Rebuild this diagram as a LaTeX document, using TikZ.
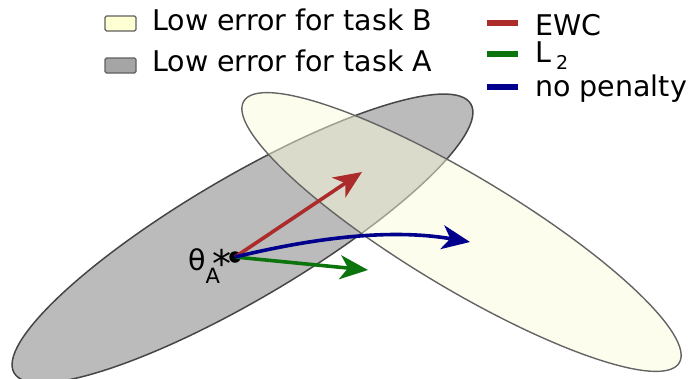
\documentclass[tikz,border=0pt]{standalone}
\usepackage{fontspec}
\setmainfont{DejaVu Sans}
\usepackage{tikz}
\usetikzlibrary{arrows.meta, positioning}
\definecolor{taskA}{RGB}{187,187,187}
\definecolor{taskB}{RGB}{251,251,221}
\definecolor{boxA}{RGB}{165,165,165}
\definecolor{boxB}{RGB}{255,255,212}
\definecolor{ewc}{RGB}{172,44,44}
\definecolor{ltwo}{RGB}{12,116,12}
\definecolor{nopen}{RGB}{0,0,140}
\tikzstyle{legtext}=[anchor=base west, inner sep=0pt, font=\fontsize{28.5}{30}\selectfont]
\tikzstyle{legbox}=[draw={rgb,255:red,95;green,95;blue,95}, line width=1.4pt, rounded corners=1.5pt, minimum width=31pt, minimum height=15pt, inner sep=0pt]
\tikzstyle{legline}=[minimum width=31pt, minimum height=5.5pt, inner sep=0pt]
\tikzstyle{penalty}=[line width=3.6pt, -{Stealth[length=28pt,width=24pt,inset=8pt]}]

\begin{document}
\begin{tikzpicture}[x=1pt,y=-1pt]
			\useasboundingbox (0,0) rectangle (692,378);

			% regions of low error
			\draw[fill=taskA, draw={rgb,255:red,70;green,70;blue,70}, line width=1.5pt, shift={(242.5,238.5)}, rotate=30.5] (0,0) ellipse [x radius=265pt, y radius=61pt];
			\draw[fill=taskB, fill opacity=0.5, draw={rgb,255:red,100;green,100;blue,100}, line width=1.4pt, shift={(461.5,232)}, rotate=-31] (0,0) ellipse [x radius=254pt, y radius=56pt];

			% legend
			\node[legbox, fill=boxB] (bB) at (120.5,23.5) {};
			\node[legbox, fill=boxA] (bA) at (120.5,65.5) {};
			\node[legtext] (tB) at (152,30) {Low error for task B};
			\node[legtext] (tA) at (152,71.7) {Low error for task A};
			\node[legline, fill=ewc] (lE) at (502.5,23) {};
			\node[legline, fill=ltwo] (lL) at (502.5,54) {};
			\node[legline, fill=nopen] (lN) at (502.5,87) {};
			\node[legtext] (tE) at (535,35) {EWC};
			\node[legtext] (tL) at (535,62) {L\kern5pt\raisebox{-7pt}{\fontsize{19}{19}\selectfont 2}};
			\node[legtext] (tN) at (535,96) {no penalty};

			% optimum for task A and the three updates
			\node[circle, fill=black, inner sep=0pt, minimum size=11.5pt] (thA) at (235,257) {};
			\node[legtext] (thAl) at (188,270) {θ\rlap{\kern7pt\raisebox{-7pt}{\fontsize{38}{38}\selectfont *}}\raisebox{-13pt}{\fontsize{21}{21}\selectfont A}};
			\coordinate (ewcEnd) at (362,172);
			\coordinate (ltwoEnd) at (368,270);
			\coordinate (nopenEnd) at (470,242);

			\draw[penalty, ewc] (thA.center) -- (ewcEnd);
			\draw[penalty, ltwo] (thA.center) -- (ltwoEnd);
			\draw[penalty, nopen] (thA.center) .. controls (330,234) and (400,230) .. (nopenEnd);
		\end{tikzpicture}
\end{document}
